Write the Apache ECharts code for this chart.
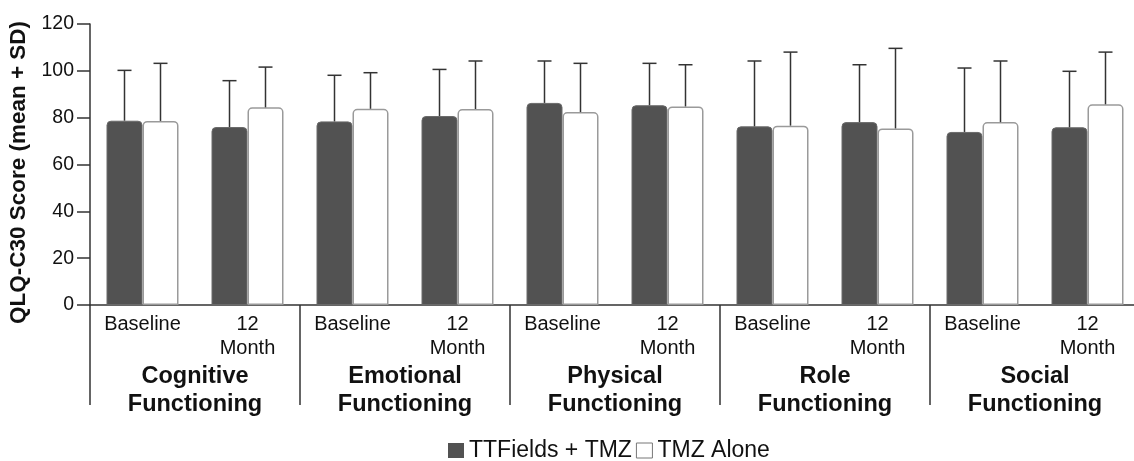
<!DOCTYPE html>
<html>
<head>
<meta charset="utf-8">
<style>
  html, body { margin: 0; padding: 0; background: #fff; }
  #chart { width: 1134px; height: 461px; }
</style>
<script src="https://cdn.jsdelivr.net/npm/echarts@6/dist/echarts.min.js"></script>
</head>
<body>
<div id="chart"></div>
<script>
// Time points within each QLQ-C30 functioning domain
const categories = [
  'Baseline', '12\nMonth', 'Baseline', '12\nMonth', 'Baseline', '12\nMonth',
  'Baseline', '12\nMonth', 'Baseline', '12\nMonth'
];
const domains = [
  'Cognitive\nFunctioning', 'Emotional\nFunctioning', 'Physical\nFunctioning',
  'Role\nFunctioning', 'Social\nFunctioning'
];
const yTicks = [0, 20, 40, 60, 80, 100, 120];

// TTFields + TMZ: mean and SD
const comboMean = [78.7, 76.0, 78.4, 80.7, 86.3, 85.3, 76.3, 78.1, 73.9, 75.9];
const comboSD   = [21.5, 19.8, 19.7, 19.9, 17.9, 17.9, 27.9, 24.5, 27.3, 23.9];
// TMZ alone: mean and SD
const aloneMean = [78.6, 84.4, 83.8, 83.7, 82.4, 84.8, 76.6, 75.4, 78.1, 85.7];
const aloneSD   = [24.6, 17.2, 15.4, 20.5, 20.8, 17.8, 31.4, 34.2, 26.1, 22.3];

const FONT = "'Liberation Sans', Arial, sans-serif";
const BAR_W = 36;
const DARK = '#525252';
const EDGE = '#9a9a9a';
const INK = '#333333';

// Whisker from the bar top up to mean + SD, with a short cap
function errorSeries(name, means, sds, offset) {
  return {
    name: name + ' SD',
    type: 'custom',
    xAxisIndex: 0,
    yAxisIndex: 0,
    z: 5,
    silent: true,
    data: means.map((m, i) => [i, m, sds[i]]),
    encode: { x: 0, y: 1 },
    renderItem: function (params, api) {
      const idx = api.value(0);
      const mean = api.value(1);
      const sd = api.value(2);
      const base = api.coord([idx, mean]);
      const top = api.coord([idx, mean + sd]);
      const x = base[0] + offset;
      const style = { stroke: INK, lineWidth: 1.5 };
      return {
        type: 'group',
        children: [
          { type: 'line', shape: { x1: x, y1: base[1], x2: x, y2: top[1] }, style: style },
          { type: 'line', shape: { x1: x - 7, y1: top[1], x2: x + 7, y2: top[1] }, style: style }
        ]
      };
    }
  };
}

const chart = echarts.init(document.getElementById('chart'), null, { renderer: 'canvas' });

chart.setOption({
  animation: false,
  backgroundColor: '#ffffff',
  textStyle: { fontFamily: FONT, color: '#111' },
  grid: { left: 90, top: 24, width: 1050, height: 281, containLabel: false, outerBoundsMode: 'none' },
  legend: {
    left: 443,
    top: 434,
    itemWidth: 16,
    itemHeight: 15,
    itemGap: 4,
    icon: 'rect',
    textStyle: { fontFamily: FONT, fontSize: 23, color: '#111' },
    data: [
      { name: 'TTFields + TMZ', itemStyle: { color: DARK, borderColor: DARK, borderWidth: 0 } },
      { name: 'TMZ Alone', itemStyle: { color: '#ffffff', borderColor: '#777', borderWidth: 1 } }
    ]
  },
  xAxis: [
    {
      type: 'category',
      data: categories,
      position: 'bottom',
      axisLine: { show: true, lineStyle: { color: INK, width: 1.5 } },
      axisTick: { show: false },
      axisLabel: {
        interval: 0,
        fontFamily: FONT,
        fontSize: 20,
        lineHeight: 24,
        color: '#111',
        margin: 7
      }
    },
    {
      type: 'category',
      data: domains,
      position: 'bottom',
      axisLine: { show: false },
      axisTick: {
        show: true,
        interval: 0,
        length: 100,
        lineStyle: { color: INK, width: 1.5 }
      },
      axisLabel: {
        interval: 0,
        fontFamily: FONT,
        fontSize: 23.5,
        fontWeight: 'bold',
        lineHeight: 28,
        color: '#111',
        margin: 58
      }
    }
  ],
  yAxis: {
    type: 'value',
    min: 0,
    max: 120,
    interval: 20,
    name: 'QLQ-C30 Score (mean + SD)',
    nameLocation: 'middle',
    nameGap: 54,
    nameTextStyle: {
      fontFamily: FONT, fontSize: 22.5, fontWeight: 'bold', color: '#111',
      padding: [0, 16, 0, 0]
    },
    axisLine: { show: true, lineStyle: { color: INK, width: 1.5 } },
    axisTick: { show: true, length: 13, lineStyle: { color: INK, width: 1.5 } },
    splitLine: { show: false },
    axisLabel: {
      fontFamily: FONT,
      fontSize: 19.5,
      color: '#111',
      margin: 16,
      formatter: function (v) { return yTicks.indexOf(v) >= 0 ? String(v) : ''; }
    }
  },
  series: [
    {
      name: 'TTFields + TMZ',
      type: 'bar',
      barWidth: BAR_W,
      barGap: '0%',
      data: comboMean,
      itemStyle: { color: DARK, borderColor: '#6a6a6a', borderWidth: 1, borderRadius: [4, 4, 0, 0] }
    },
    {
      name: 'TMZ Alone',
      type: 'bar',
      barWidth: BAR_W,
      barGap: '0%',
      data: aloneMean,
      itemStyle: { color: '#ffffff', borderColor: EDGE, borderWidth: 1.5, borderRadius: [4, 4, 0, 0] }
    },
    errorSeries('TTFields + TMZ', comboMean, comboSD, -BAR_W / 2),
    errorSeries('TMZ Alone', aloneMean, aloneSD, BAR_W / 2)
  ]
});
</script>
</body>
</html>
